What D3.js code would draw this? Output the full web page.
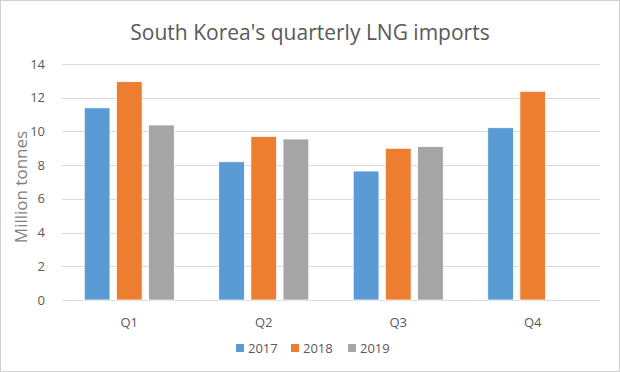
<!DOCTYPE html>
<html>
<head>
<meta charset="utf-8">
<script src="https://cdn.jsdelivr.net/npm/d3@7"></script>
<style>
  html, body { margin: 0; padding: 0; background: #fff; }
  svg text { font-family: "Open Sans", "Noto Sans", sans-serif; fill: #595959; }
</style>
</head>
<body>
<svg id="chart"></svg>
<script>
var quarters = ["Q1", "Q2", "Q3", "Q4"];
var years = ["2017", "2018", "2019"];
var imports2017 = [11.4, 8.2, 7.65, 10.22];
var imports2018 = [12.95, 9.7, 9.0, 12.38];
var imports2019 = [10.38, 9.55, 9.1, null];
var yTicks = [0, 2, 4, 6, 8, 10, 12, 14];
var colours = ["#5b9bd5", "#ed7d31", "#a5a5a5"];

var width = 620, height = 372;
var margin = {top: 64, right: 20, bottom: 72, left: 62};
var series = [imports2017, imports2018, imports2019];

var svg = d3.select("#chart")
    .attr("width", width)
    .attr("height", height);

// chart frame
svg.append("rect")
  .attr("x", 0.5).attr("y", 0.5)
  .attr("width", width - 1).attr("height", height - 1)
  .style("fill", "#fff")
  .style("stroke", "#d0d0d0");

var x = d3.scaleBand().domain(quarters)
    .range([margin.left, width - margin.right]);
var x1 = d3.scaleBand().domain(years)
    .range([0, 90]).paddingInner(0.2);
var y = d3.scaleLinear().domain([0, 14])
    .range([height - margin.bottom, margin.top]);

// gridlines
svg.append("g").selectAll("line").data(yTicks)
  .enter().append("line")
  .attr("x1", margin.left).attr("x2", width - margin.right)
  .attr("y1", d => Math.round(y(d)) + 0.5)
  .attr("y2", d => Math.round(y(d)) + 0.5)
  .style("stroke", "#d9d9d9")
  .style("stroke-width", 1);

// y tick labels
svg.append("g").selectAll("text").data(yTicks)
  .enter().append("text")
  .attr("x", 45)
  .attr("y", d => y(d))
  .attr("dy", "0.35em")
  .attr("text-anchor", "end")
  .style("font-size", "13px")
  .text(d => d);

// bars
var groupOffset = x.bandwidth() / 2 - 45;
series.forEach(function(values, i) {
  svg.append("g").selectAll("rect")
    .data(values.map((v, j) => ({q: quarters[j], v: v})).filter(d => d.v != null))
    .enter().append("rect")
    .attr("x", d => x(d.q) + groupOffset + x1(years[i]))
    .attr("y", d => y(d.v))
    .attr("width", x1.bandwidth())
    .attr("height", d => y(0) - y(d.v))
    .style("fill", colours[i])
    .style("stroke", "#fff")
    .style("stroke-width", 0.75);
});

// category labels
svg.append("g").selectAll("text").data(quarters)
  .enter().append("text")
  .attr("x", d => x(d) + x.bandwidth() / 2)
  .attr("y", 322)
  .attr("dy", "0.35em")
  .attr("text-anchor", "middle")
  .style("font-size", "13px")
  .text(d => d);

// y axis title
svg.append("text")
  .attr("transform", "translate(21," + 187 + ") rotate(-90)")
  .attr("dy", "0.35em")
  .attr("text-anchor", "middle")
  .style("font-size", "17px")
  .style("fill", "#7f7f7f")
  .text("Million tonnes");

// title
svg.append("text")
  .attr("x", width / 2)
  .attr("y", 33)
  .attr("dy", "0.35em")
  .attr("text-anchor", "middle")
  .style("font-size", "21px")
  .text("South Korea's quarterly LNG imports");

// legend
var legendX = [236, 291, 348];
var legend = svg.append("g").selectAll("g").data(years)
  .enter().append("g")
  .attr("transform", (d, i) => "translate(" + legendX[i] + ",348)");
legend.append("rect")
  .attr("x", 0).attr("y", -4)
  .attr("width", 8).attr("height", 8)
  .style("fill", (d, i) => colours[i]);
legend.append("text")
  .attr("x", 12)
  .attr("dy", "0.35em")
  .style("font-size", "13px")
  .text(d => d);
</script>
</body>
</html>
